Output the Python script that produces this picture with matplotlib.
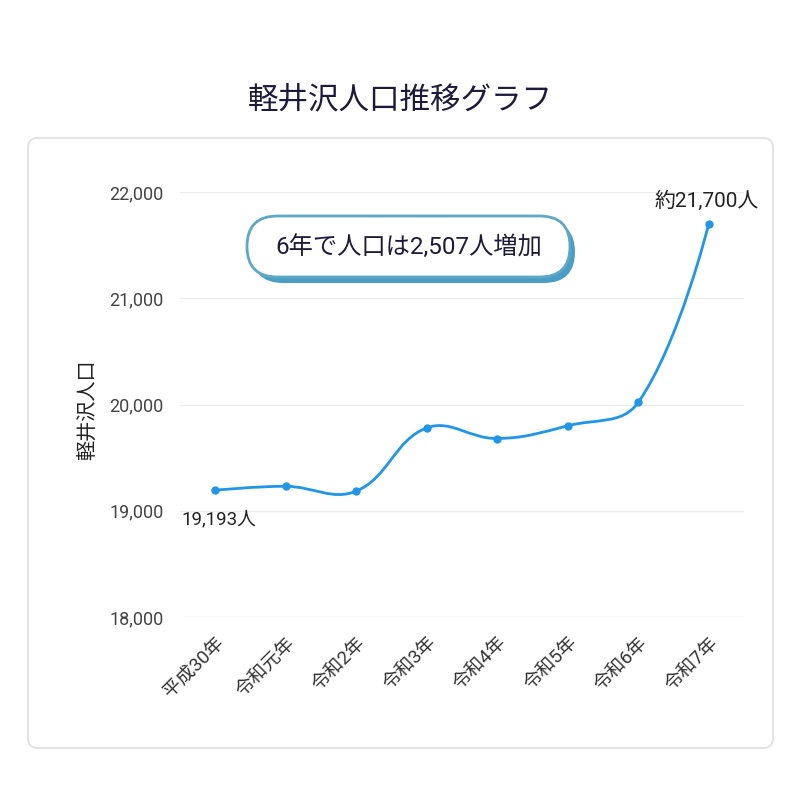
import numpy as np
import matplotlib.pyplot as plt
from matplotlib.patches import FancyBboxPatch, PathPatch
from matplotlib.path import Path

plt.rcParams['font.family'] = ['Roboto', 'Noto Sans CJK JP', 'DejaVu Sans']

# データ
years = ['平成30年', '令和元年', '令和2年', '令和3年', '令和4年', '令和5年', '令和6年', '令和7年']
population = [19193, 19230, 19185, 19780, 19680, 19800, 20020, 21700]
yticks = [18000, 19000, 20000, 21000, 22000]
title = '軽井沢人口推移グラフ'
ylabel = '軽井沢人口'
note = '6年で人口は2,507人増加'
first_label = '19,193人'
last_label = '約21,700人'

W = H = 800
line_color = '#2196e8'
text_color = '#1e1b3a'

fig = plt.figure(figsize=(8, 8), dpi=100)
fig.patch.set_facecolor('white')


def fx(x):
    return x / W


def fy(y):
    return 1 - y / H


# カード枠
card = FancyBboxPatch((fx(28), fy(748)), fx(773) - fx(28), fy(138) - fy(748),
                      boxstyle='round,pad=0,rounding_size=0.012',
                      transform=fig.transFigure, facecolor='white',
                      edgecolor='#e2e2e2', linewidth=1.3, zorder=-5)
fig.patches.append(card)

fig.text(0.5, fy(100), title, ha='center', va='center', fontsize=22, color=text_color)

ax = fig.add_axes([fx(180), fy(617), fx(744) - fx(180), fy(192) - fy(617)])
ax.set_xlim(-0.5, len(years) - 0.5)
ax.set_ylim(yticks[0], yticks[-1])
ax.set_yticks(yticks)
ax.set_yticklabels(['{:,}'.format(v) for v in yticks], fontsize=13, color='#444444')
ax.set_xticks(range(len(years)))
ax.set_xticklabels(years, rotation=45, ha='right', rotation_mode='anchor',
                   fontsize=13.5, color='#333333')
ax.tick_params(axis='both', length=0)
ax.tick_params(axis='y', pad=12)
ax.tick_params(axis='x', pad=12)
ax.grid(axis='y', color='#ececec', linewidth=1)
ax.set_axisbelow(True)
for s in ax.spines.values():
    s.set_visible(False)
ax.set_facecolor('none')

fig.text(fx(87), fy(410), ylabel, rotation=90, ha='center',
         va='center', fontsize=14.5, color='#222222')

# Chart.js風のスプライン (tension 0.4)
xs = np.arange(len(years), dtype=float)
pts = ax.transData.transform(np.column_stack([xs, population]))
tension = 0.4
ctrl_prev = pts.copy()
ctrl_next = pts.copy()
for i in range(1, len(pts) - 1):
    p0, p1, p2 = pts[i - 1], pts[i], pts[i + 1]
    d01 = np.hypot(*(p1 - p0))
    d12 = np.hypot(*(p2 - p1))
    s01 = d01 / (d01 + d12)
    s12 = d12 / (d01 + d12)
    ctrl_prev[i] = p1 - tension * s01 * (p2 - p0)
    ctrl_next[i] = p1 + tension * s12 * (p2 - p0)
verts = [pts[0]]
codes = [Path.MOVETO]
for i in range(len(pts) - 1):
    verts += [ctrl_next[i], ctrl_prev[i + 1], pts[i + 1]]
    codes += [Path.CURVE4] * 3
verts = ax.transData.inverted().transform(np.array(verts))
ax.add_patch(PathPatch(Path(verts, codes), facecolor='none', edgecolor=line_color,
                       linewidth=2, clip_on=False, zorder=3))
ax.plot(xs, population, 'o', color=line_color, markersize=5, zorder=4, clip_on=False)

ax.annotate(first_label, (xs[0], population[0]), xytext=(4, -29),
            textcoords='offset pixels', ha='center', va='center',
            fontsize=13.5, color='#222222')
ax.annotate(last_label, (xs[-1], population[-1]), xytext=(-2, 23),
            textcoords='offset pixels', ha='center', va='center',
            fontsize=15, color='#222222')

# 吹き出し
shadow = FancyBboxPatch((fx(252), fy(283)), fx(575) - fx(252), fy(221) - fy(283),
                        boxstyle='round,pad=0,rounding_size=0.039',
                        transform=fig.transFigure, facecolor='#4a9ec6',
                        edgecolor='none', zorder=5)
pill = FancyBboxPatch((fx(247), fy(277)), fx(570) - fx(247), fy(216) - fy(277),
                      boxstyle='round,pad=0,rounding_size=0.038',
                      transform=fig.transFigure, facecolor='white',
                      edgecolor='#5ea8c6', linewidth=2, zorder=6)
fig.patches.extend([shadow, pill])
fig.text(fx(409), fy(247), note, ha='center', va='center', fontsize=17.5,
         color=text_color, zorder=7)

fig.savefig('out.png', dpi=100, facecolor='white')
